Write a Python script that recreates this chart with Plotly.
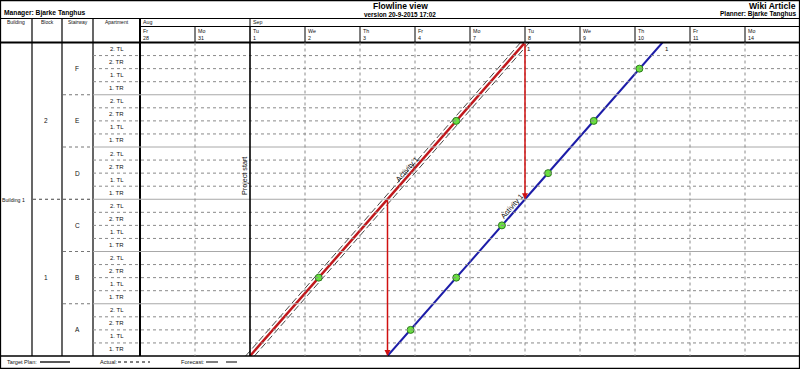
import plotly.graph_objects as go

W, H = 800, 369
FONT = "Liberation Sans, Arial, sans-serif"
TXT = "#111"

# ---------------- data ----------------
months = ["Aug", "Sep"]
month_start_day = [0, 2]
day_names = ["Fr", "Mo", "Tu", "We", "Th", "Fr", "Mo", "Tu", "We", "Th", "Fr", "Mo"]
day_dates = ["28", "31", "1", "2", "3", "4", "7", "8", "9", "10", "11", "14"]
apartments = ["1. TR", "1. TL", "2. TR", "2. TL"]          # bottom -> top inside a stairway
stairways = ["A", "B", "C", "D", "E", "F"]                 # bottom -> top
blocks = ["1", "2"]
building = "Building 1"
project_start_day = 2

plan_days = [2, 7]            # red line (target plan)
plan_rows = [0, 24]
actual_days = [4.5, 9.5]      # blue line
actual_rows = [0, 24]
forecast_left_days = [1.92, 6.92]
forecast_right_days = [2.08, 7.08]
forecast_rows = [0, 24]
plan_marker_days = [3.25, 5.75]
plan_marker_rows = [6, 18]
actual_marker_days = [4.92, 5.75, 6.58, 7.42, 8.25, 9.08]
actual_marker_rows = [2, 6, 10, 14, 18, 22]
buffer_days = [4.5, 7]
buffer_from_rows = [12, 24]
buffer_to_rows = [0, 12]

# ---------------- geometry helpers ----------------
CH_L, CH_R = 140, 800     # chart pixel bounds
CH_T, CH_B = 42.5, 356
NDAYS = len(day_names)
NROWS = len(apartments) * len(stairways)
DX = (CH_R - CH_L) / NDAYS
DY = (CH_B - CH_T) / NROWS


def px(x):
    return x / W


def py(y):
    return 1 - y / H


def row_px(r):
    return CH_B - r * DY


shapes = []
annotations = []


def hline(x0, x1, y, color="black", width=1, dash="solid"):
    shapes.append(dict(type="line", xref="paper", yref="paper", x0=px(x0), x1=px(x1),
                       y0=py(y), y1=py(y), line=dict(color=color, width=width, dash=dash)))


def vline(x, y0, y1, color="black", width=1, dash="solid"):
    shapes.append(dict(type="line", xref="paper", yref="paper", x0=px(x), x1=px(x),
                       y0=py(y0), y1=py(y1), line=dict(color=color, width=width, dash=dash)))


def text(x, y, s, size=6, xanchor="center", color=TXT, angle=0):
    annotations.append(dict(xref="paper", yref="paper", x=px(x), y=py(y), text=s,
                            showarrow=False, xanchor=xanchor, yanchor="middle", borderpad=0,
                            textangle=angle, font=dict(family=FONT, size=size, color=color)))


# ---------------- header ----------------
text(400, 6.3, "<b>Flowline view</b>", size=8.5, color="black")
text(400, 14.3, "<b>version 20-9-2015 17:02</b>", size=6.4, color="black")
text(797, 5.8, "<b>Wiki Article</b>", size=8.6, xanchor="right", color="black")
text(797, 14.4, "<b>Planner: Bjarke Tanghus</b>", size=6.5, xanchor="right", color="black")
text(3, 13.3, "<b>Manager: Bjarke Tanghus</b>", size=6.7, xanchor="left", color="black")

hline(0, 800, 18.5, width=1)
hline(CH_L, 800, 26.5, width=1)
hline(0, 800, CH_T, width=1.8)
hline(0, 800, CH_B, width=1.5)

col_x = [0, 32, 62, 93, 140]
col_names = ["Building", "Block", "Stairway", "Apartment"]
for i, name in enumerate(col_names):
    text((col_x[i] + col_x[i + 1]) / 2, 21.8, name, size=5)
for x in col_x[1:4]:
    vline(x, 18.5, CH_B, width=1.2)
vline(CH_L, 18.5, CH_B, width=2)

# month row
for m, d in zip(months, month_start_day):
    text(CH_L + d * DX + 1.5, 22.3, m, size=5.3, xanchor="left")
    if d > 0:
        vline(CH_L + d * DX, 18.5, CH_T, width=1)
# day row
for i, (dn, dd) in enumerate(zip(day_names, day_dates)):
    x = CH_L + i * DX
    if i > 0:
        vline(x, 26.5, CH_T, width=1)
    text(x + 1.5, 30.8, dn, size=5.3, xanchor="left")
    text(x + 1.5, 37.8, dd, size=5.3, xanchor="left")

# ---------------- left table labels ----------------
n_ap = len(apartments)
for s, sname in enumerate(stairways):
    for a, aname in enumerate(apartments):
        r = s * n_ap + a
        text(116.5, row_px(r + 0.5), aname, size=6)
    text(77, row_px(s * n_ap + n_ap / 2), sname, size=6.5)
rows_per_block = NROWS // len(blocks)
for b, bname in enumerate(blocks):
    text(46, row_px(b * rows_per_block + rows_per_block / 2), bname, size=6.5)
text(13.5, row_px(NROWS / 2) + 0.5, building, size=5.2)

# row separators
for r in range(1, NROWS):
    y = row_px(r)
    if r % n_ap == 0:
        hline(93, CH_R, y, color="#a8a8a8", width=1)
        if r % rows_per_block == 0:
            hline(33, 93, y, color="#444", width=1, dash="dot")
        else:
            hline(63, 93, y, color="#777", width=1, dash="dot")
    else:
        hline(93, CH_R, y, color="#8a8a8a", width=1, dash="dot")

# day separators in chart
for i in range(1, NDAYS):
    if i == project_start_day:
        continue
    vline(CH_L + i * DX, CH_T, CH_B, color="#8a8a8a", width=1, dash="dot")
vline(CH_L + project_start_day * DX, CH_T, CH_B, width=1.6)
text(CH_L + project_start_day * DX - 5, 176, "Project start", size=7.2, angle=-90)

# ---------------- legend row ----------------
text(6, 362, "Target Plan:", size=5.6, xanchor="left")
hline(40, 70, 362, width=1.3)
text(99, 362, "Actual:", size=5.6, xanchor="left")
hline(118, 150, 362, width=1, dash="dot")
text(180, 362, "Forecast:", size=5.6, xanchor="left")
hline(206, 237, 362, width=1.2, dash="12px,8px")

# outer border
shapes.append(dict(type="rect", xref="paper", yref="paper", x0=0.0006, x1=0.9994,
                   y0=0.0014, y1=0.9986, line=dict(color="black", width=1.3)))

# ---------------- chart traces ----------------
fig = go.Figure()
for fd in (forecast_left_days, forecast_right_days):
    fig.add_trace(go.Scatter(x=fd, y=forecast_rows, mode="lines",
                             line=dict(color="#333", width=0.9, dash="7px,3px"),
                             hoverinfo="skip", showlegend=False))
fig.add_trace(go.Scatter(x=plan_days, y=plan_rows, mode="lines",
                         line=dict(color="#c0181c", width=2.5), showlegend=False))
fig.add_trace(go.Scatter(x=actual_days, y=actual_rows, mode="lines",
                         line=dict(color="#1c1ca8", width=2), showlegend=False))
fig.add_trace(go.Scatter(x=plan_marker_days, y=plan_marker_rows, mode="markers",
                         marker=dict(size=7, color="#6ae040", line=dict(color="#2d7a1e", width=1)),
                         showlegend=False))
fig.add_trace(go.Scatter(x=actual_marker_days, y=actual_marker_rows, mode="markers",
                         marker=dict(size=7, color="#6ae040", line=dict(color="#2d7a1e", width=1)),
                         showlegend=False))

for d, r0, r1 in zip(buffer_days, buffer_from_rows, buffer_to_rows):
    annotations.append(dict(xref="x", yref="y", axref="x", ayref="y", x=d, y=r1, ax=d, ay=r0,
                            text="", showarrow=True, arrowhead=2, arrowsize=0.8,
                            arrowwidth=1.5, arrowcolor="#d01010", standoff=0))

# activity labels
annotations.append(dict(xref="x", yref="y", x=4.85, y=14.3, text="Activity 1", showarrow=False,
                        textangle=-48.7, font=dict(family=FONT, size=7.5, color=TXT)))
annotations.append(dict(xref="x", yref="y", x=6.76, y=11.45, text="Activity 1", showarrow=False,
                        textangle=-48.7, font=dict(family=FONT, size=7.5, color=TXT)))
for d in (plan_days[1], actual_days[1]):
    annotations.append(dict(xref="x", yref="y", x=d, y=24, text="1", showarrow=False,
                            xanchor="left", yanchor="top", xshift=0, yshift=-1,
                            font=dict(family=FONT, size=6, color=TXT)))

fig.update_layout(
    width=W, height=H, margin=dict(l=0, r=0, t=0, b=0),
    paper_bgcolor="white", plot_bgcolor="rgba(0,0,0,0)",
    xaxis=dict(domain=[CH_L / W, 1], range=[0, NDAYS], visible=False, fixedrange=True),
    yaxis=dict(domain=[(H - CH_B) / H, (H - CH_T) / H], range=[0, NROWS], visible=False,
               fixedrange=True),
    shapes=shapes, annotations=annotations, showlegend=False,
)

fig.write_html("out.html")
